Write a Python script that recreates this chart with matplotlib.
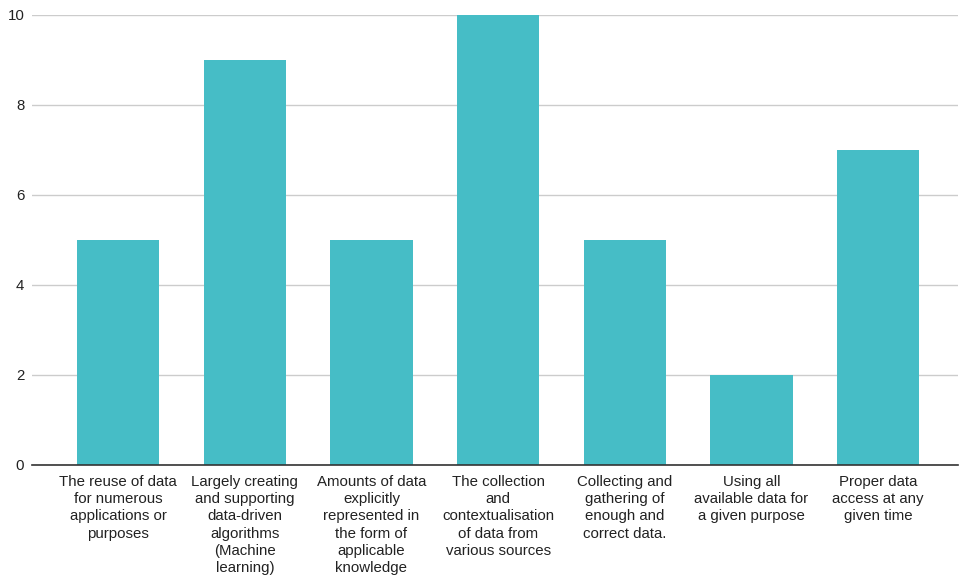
import matplotlib
matplotlib.use("Agg")
import matplotlib.pyplot as plt

plt.rcParams['font.family'] = ['Liberation Sans', 'DejaVu Sans']

categories = [
    "The reuse of data\nfor numerous\napplications or\npurposes",
    "Largely creating\nand supporting\ndata-driven\nalgorithms\n(Machine\nlearning)",
    "Amounts of data\nexplicitly\nrepresented in\nthe form of\napplicable\nknowledge",
    "The collection\nand\ncontextualisation\nof data from\nvarious sources",
    "Collecting and\ngathering of\nenough and\ncorrect data.",
    "Using all\navailable data for\na given purpose",
    "Proper data\naccess at any\ngiven time",
]
counts = [5, 9, 5, 10, 5, 2, 7]
y_ticks = [0, 2, 4, 6, 8, 10]

fig = plt.figure(figsize=(9.59, 5.8), dpi=100)
ax = fig.add_axes([32 / 959, 1 - 465 / 580, 926 / 959, 450 / 580])

x = range(len(categories))
ax.bar(x, counts, width=0.65, color="#46bdc6", zorder=3)

ax.set_xlim(-0.68, 6.63)
ax.set_ylim(0, 10)
ax.set_yticks(y_ticks)
ax.set_xticks(list(x))
ax.set_xticklabels(categories, fontsize=10.8, color="#222222", linespacing=1.3)
ax.tick_params(axis="y", length=0, pad=5.5, labelsize=10.8, labelcolor="#222222")
ax.tick_params(axis="x", length=0, pad=7)

ax.grid(axis="y", color="#cccccc", linewidth=1.0, zorder=0)
for side in ("top", "right", "left"):
    ax.spines[side].set_visible(False)
ax.spines["bottom"].set_color("#333333")
ax.spines["bottom"].set_linewidth(1.2)
ax.spines["bottom"].set_zorder(4)

fig.savefig("out.png", dpi=100)
